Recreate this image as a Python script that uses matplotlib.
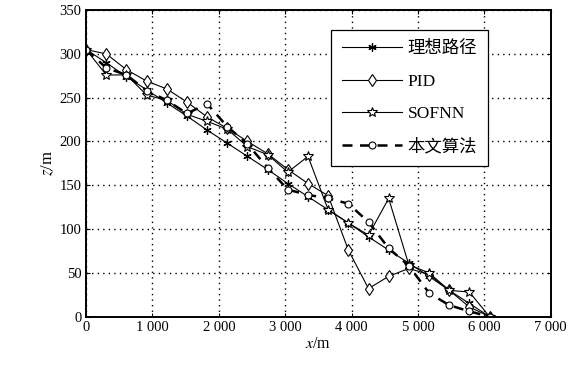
import matplotlib
matplotlib.use("Agg")
import matplotlib.pyplot as plt
from matplotlib.ticker import FuncFormatter

plt.rcParams['font.family'] = ['Liberation Serif', 'Noto Sans CJK SC']
plt.rcParams['mathtext.fontset'] = 'stix'

x_vals = [0, 304, 608, 912, 1216, 1520, 1824, 2128, 2432, 2736, 3040,
          3344, 3648, 3952, 4256, 4560, 4864, 5168, 5472, 5776, 6080]
z_ideal = [305, 290, 274, 259, 244, 229, 213, 198, 183, 168, 152,
           137, 122, 107, 91, 76, 61, 46, 30, 15, 0]
z_pid = [305, 300, 282, 269, 260, 245, 228, 215, 200, 186, 168,
         152, 138, 76, 32, 46, 55, 48, 30, 11, 0]
z_sofnn = [305, 276, 276, 253, 247, 231, 223, 214, 194, 185, 165,
           183, 122, 107, 93, 135, 59, 50, 30, 28, 0]
z_ours = [305, 284, 276, 258, 247, 232, 243, 217, 197, 170, 145,
          139, 135, 129, 108, 78, 58, 27, 13, 6, 0]
labels = ['理想路径', 'PID', 'SOFNN', '本文算法']

fig = plt.figure(figsize=(5.82, 3.76), dpi=100)
ax = fig.add_axes([0.148, 0.158, 0.798, 0.815])

lw = 0.8
ax.plot(x_vals, z_ideal, '-', color='black', lw=lw, marker=(6, 2, 0),
        ms=6, mew=0.9, label=labels[0])
ax.plot(x_vals, z_pid, '-', color='black', lw=lw, marker='d', ms=6,
        mfc='white', mec='black', mew=0.8, label=labels[1])
ax.plot(x_vals, z_sofnn, '-', color='black', lw=lw, marker='*', ms=7,
        mfc='white', mec='black', mew=0.8, label=labels[2])
ax.plot(x_vals, z_ours, '--', color='black', lw=1.8, dashes=(4, 3),
        marker='o', ms=5, mfc='white', mec='black', mew=0.8, label=labels[3])

ax.set_xlim(0, 7000)
ax.set_ylim(0, 350)
ax.set_xticks(range(0, 7001, 1000))
ax.set_yticks(range(0, 351, 50))
ax.xaxis.set_major_formatter(FuncFormatter(
    lambda v, p: ('{:,}'.format(int(v))).replace(',', ' ')))
ax.tick_params(direction='in', top=True, right=True, labelsize=10.5,
               length=3, width=0.8)
ax.grid(True, linestyle=(0, (1, 3)), color='black', linewidth=1.0)
for s in ax.spines.values():
    s.set_linewidth(1.4)

ax.set_xlabel('$x$/m', fontsize=11.5, labelpad=1)
ax.set_ylabel('$z$/m', fontsize=12, labelpad=2)

leg = ax.legend(loc='upper right', bbox_to_anchor=(0.883, 0.962), fontsize=12.5,
                frameon=True, fancybox=False, edgecolor='black',
                framealpha=1, handlelength=3.5, labelspacing=0.95,
                borderpad=0.6, handletextpad=0.3)
leg.get_frame().set_linewidth(0.9)

fig.savefig('out.png', dpi=100)
